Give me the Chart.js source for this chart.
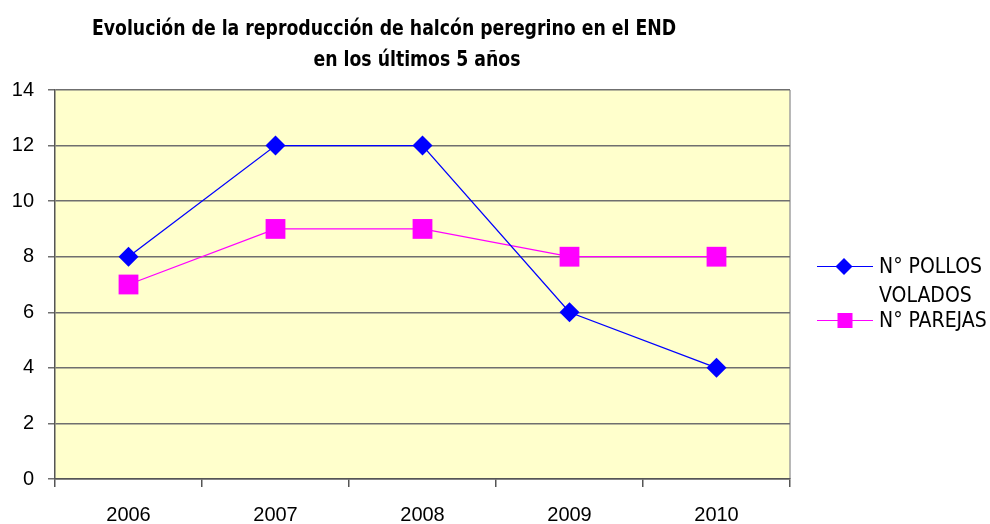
<!DOCTYPE html>
<html>
<head>
<meta charset="utf-8">
<script src="https://cdn.jsdelivr.net/npm/chart.js@4"></script>
<style>
  html, body { margin: 0; padding: 0; background: #fff; }
</style>
</head>
<body>
<canvas id="chart" width="990" height="524"></canvas>
<script>
// datos
var years = ['2006', '2007', '2008', '2009', '2010'];
var pollosVolados = [8, 12, 12, 6, 4];
var parejas = [7, 9, 9, 8, 8];
var seriesNames = ['N° POLLOS VOLADOS', 'N° PAREJAS'];
var titleLines = ['Evolución de la reproducción de halcón peregrino en el END', 'en los últimos 5 años'];
var yMax = 14, yStep = 2;

var narrow = "'Liberation Sans Narrow', 'DejaVu Sans Condensed', sans-serif";

// fondo amarillo del area de trazado
var plotBg = {
  id: 'plotBg',
  beforeDraw: function(chart) {
    var a = chart.chartArea, ctx = chart.ctx;
    ctx.save();
    ctx.fillStyle = '#FFFFCC';
    ctx.fillRect(a.left, a.top, a.right - a.left, a.bottom - a.top);
    ctx.strokeStyle = '#a0a0a0';
    ctx.lineWidth = 1.5;
    ctx.beginPath();
    ctx.moveTo(a.right, a.top);
    ctx.lineTo(a.right, a.bottom);
    ctx.stroke();
    ctx.restore();
  }
};

// titulo en dos lineas (letra estrecha)
var titlePlugin = {
  id: 'titlePlugin',
  afterDraw: function(chart) {
    var ctx = chart.ctx;
    var pos = [[384, 35], [417, 66]];
    ctx.save();
    ctx.fillStyle = '#000';
    ctx.font = 'bold 22px ' + narrow;
    ctx.textAlign = 'center';
    ctx.textBaseline = 'alphabetic';
    titleLines.forEach(function(t, i) {
      ctx.save();
      ctx.translate(pos[i][0], pos[i][1]);
      ctx.scale(0.874, 1);
      ctx.fillText(t, 0, 0);
      ctx.restore();
    });
    ctx.restore();
  }
};

function wrapText(ctx, text, maxW) {
  var words = text.split(' '), lines = [], cur = '';
  words.forEach(function(w) {
    var t = cur ? cur + ' ' + w : w;
    if (cur && ctx.measureText(t).width > maxW) { lines.push(cur); cur = w; }
    else cur = t;
  });
  if (cur) lines.push(cur);
  return lines;
}

// leyenda a la derecha
var legendPlugin = {
  id: 'legendPlugin',
  afterDraw: function(chart) {
    var ctx = chart.ctx;
    var y = 266.5;
    ctx.save();
    ctx.font = '21px ' + narrow;
    ctx.textBaseline = 'middle';
    chart.data.datasets.forEach(function(ds) {
      ctx.strokeStyle = ds.borderColor;
      ctx.lineWidth = 1.2;
      ctx.beginPath();
      ctx.moveTo(817, y);
      ctx.lineTo(873, y);
      ctx.stroke();
      ctx.fillStyle = ds.pointBackgroundColor;
      if (ds.pointStyle === 'rectRot') {
        ctx.beginPath();
        ctx.moveTo(844, y - 8.5);
        ctx.lineTo(852.5, y);
        ctx.lineTo(844, y + 8.5);
        ctx.lineTo(835.5, y);
        ctx.closePath();
        ctx.fill();
      } else {
        ctx.fillRect(837.5, y - 7.5, 15, 15);
      }
      ctx.fillStyle = '#000';
      var lines = wrapText(ctx, ds.label, 108);
      lines.forEach(function(l, i) {
        ctx.fillText(l, 879, y + 1.5 + i * 29);
      });
      y += (lines.length - 1) * 29 + 25;
    });
    ctx.restore();
  }
};

new Chart(document.getElementById('chart'), {
  type: 'line',
  data: {
    labels: years,
    datasets: [
      {
        label: seriesNames[0],
        data: pollosVolados,
        borderColor: '#0000FF',
        backgroundColor: '#0000FF',
        borderWidth: 1.3,
        pointStyle: 'rectRot',
        pointRadius: 10,
        pointHoverRadius: 10,
        pointBackgroundColor: '#0000FF',
        pointBorderColor: '#0000FF',
        pointBorderWidth: 0
      },
      {
        label: seriesNames[1],
        data: parejas,
        borderColor: '#FF00FF',
        backgroundColor: '#FF00FF',
        borderWidth: 1.3,
        pointStyle: 'rect',
        pointRadius: 14,
        pointHoverRadius: 14,
        pointBackgroundColor: '#FF00FF',
        pointBorderColor: '#FF00FF',
        pointBorderWidth: 0
      }
    ]
  },
  options: {
    responsive: false,
    animation: false,
    devicePixelRatio: 1,
    layout: { padding: { top: 90, right: 200, bottom: 0, left: 0 } },
    plugins: {
      legend: { display: false },
      title: { display: false },
      tooltip: { enabled: false }
    },
    scales: {
      x: {
        offset: true,
        grid: { offset: true, drawOnChartArea: false, drawTicks: true, tickLength: 8, color: '#555', lineWidth: 1.5 },
        border: { color: '#555', width: 1.5 },
        ticks: { color: '#000', padding: 16, maxRotation: 0, font: { family: "'Liberation Sans', Arial, sans-serif", size: 20 } },
        afterFit: function(s) { s.height = 45; }
      },
      y: {
        min: 0,
        max: yMax,
        ticks: { stepSize: yStep, color: '#000', padding: 14, font: { family: "'Liberation Sans', Arial, sans-serif", size: 20 } },
        grid: { color: '#6f6f6f', lineWidth: 1.5, tickLength: 7 },
        border: { color: '#555', width: 1.5 },
        afterFit: function(s) { s.width = 55; }
      }
    }
  },
  plugins: [plotBg, titlePlugin, legendPlugin]
});
</script>
</body>
</html>
